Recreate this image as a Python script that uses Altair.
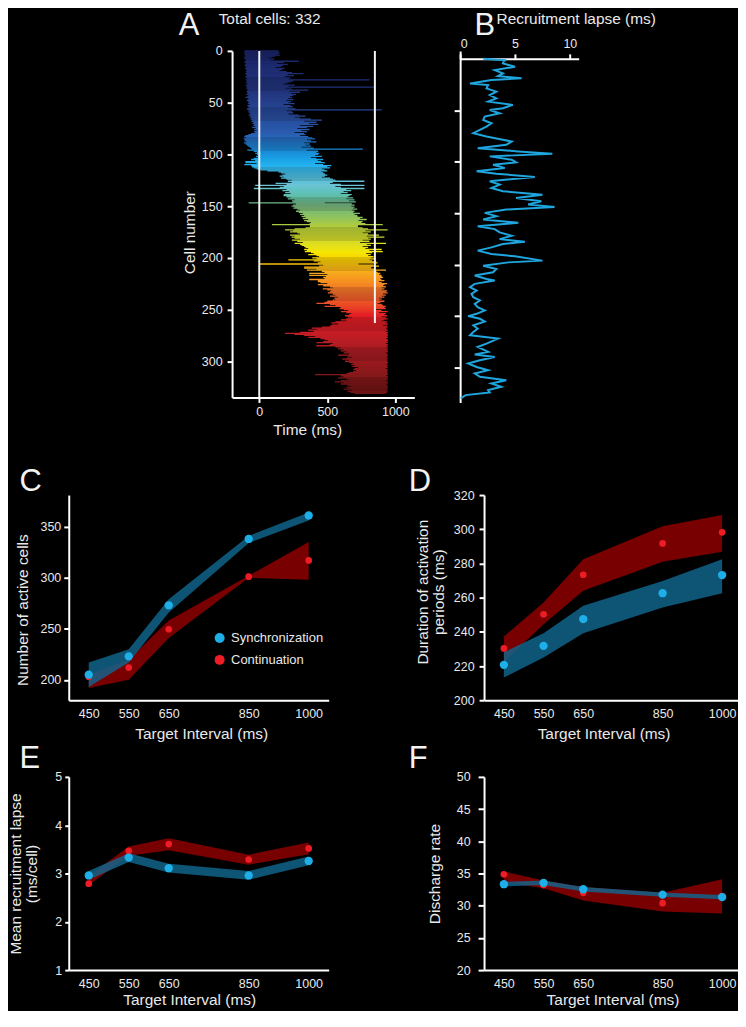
import altair as alt
import pandas as pd

FONT = "Liberation Sans"
TXT = "#e9e9e9"
LET = "#f2f2f2"
BLUE_DOT = "#1eaee8"
RED_DOT = "#ee1c24"
BLUE_BAND = "#10668f"
RED_BAND = "#800000"

# ---------------- Panel A: activation period of each cell ----------------
cell_start = [
 -108,-112,-105,-110,-106,-100,-112,-108,-104,-98,
 -102,-110,-96,-104,-108,-100,-95,-106,-98,-92,
 -100,-94,-104,-98,-90,-102,-96,-88,-100,-94,
 -92,-98,-86,-100,-94,-90,-96,-88,-84,-92,
 -90,-84,-96,-80,-88,-102,-78,-86,-92,-82,
 -76,-84,-70,-88,-80,-74,-92,-86,-68,-80,
 -72,-66,-78,-60,-70,-56,-64,-48,-58,-42,
 -50,-36,-44,-30,-52,-26,-38,-20,-40,-30,
 -60,-80,-102,-110,-96,-115,-104,-108,-92,-112,
 -100,-90,-82,-70,-60,-53,-88,-40,-17,-30,
 -17,-8,-24,-12,-40,-60,-30,-102,-102,-20,
 -110,-60,-53,-40,-20,10,60,141,160,190,
 170,150,180,160,200,238,210,238,120,200,
 -30,180,150,-40,200,170,220,190,230,180,
 178,200,230,210,260,240,250,-78,270,250,
 238,260,250,280,300,270,290,320,300,330,
 311,340,320,360,330,350,380,370,93,372,
 372,340,260,190,250,226,280,300,226,260,
 238,260,300,240,280,320,260,300,311,330,
 340,360,330,350,335,380,400,360,420,440,
 390,420,214,400,450,430,0,470,440,330,
 330,420,350,460,480,367,500,367,490,470,
 480,367,430,431,450,500,431,470,520,540,
 467,500,530,520,504,540,560,520,580,552,
 560,540,500,480,420,520,560,480,600,590,
 620,652,600,640,676,660,630,650,680,640,
 600,640,560,531,580,531,520,460,386,420,
 360,400,300,190,260,330,410,360,450,480,
 504,470,420,540,520,420,560,600,580,620,
 600,640,620,660,580,650,680,640,610,660,
 630,660,690,676,700,680,725,700,690,710,
 690,660,640,410,600,620,580,640,660,600,
 555,620,600,650,676,640,660,620,680,650,670,700]
cell_end = [
 140,145,150,138,152,120,95,70,110,85,
 290,180,130,210,175,160,120,185,170,150,
 200,240,325,210,255,190,230,215,810,250,
 230,205,180,260,215,852,190,240,360,220,
 300,235,270,250,226,240,212,250,200,235,
 215,260,178,230,245,210,265,900,200,240,
 250,215,290,340,260,300,380,460,330,420,
 365,433,300,397,350,280,370,310,350,260,
 330,340,300,360,390,410,350,380,420,330,
 370,340,380,310,400,761,350,433,420,440,
 433,410,460,380,420,470,430,455,482,410,
 470,530,500,520,460,480,500,457,470,482,
 500,482,460,520,540,560,773,540,520,600,
 773,560,600,773,640,676,620,650,600,680,
 664,650,690,640,700,660,710,482,680,700,
 676,700,690,720,680,700,690,740,700,720,
 723,760,740,790,730,760,750,780,908,725,
 725,760,800,944,780,820,760,800,880,790,
 920,800,820,760,810,740,932,790,820,760,
 800,780,900,810,908,830,786,820,800,840,
 820,850,810,830,860,870,730,840,880,823,
 823,850,932,860,870,890,880,898,900,910,
 890,898,920,880,900,940,920,910,930,900,
 920,900,940,930,944,910,930,900,920,880,
 900,880,920,890,870,900,910,930,920,930,
 860,900,944,880,930,920,940,900,930,944,
 920,900,940,930,944,910,940,944,930,940,
 944,930,946,940,944,945,940,946,935,944,
 946,940,944,930,946,940,944,935,946,940,
 944,946,930,940,945,944,935,946,940,944,
 940,946,944,935,946,940,944,930,946,940,
 944,940,946,944,935,946,940,944,946,930,
 944,946,940,935,946,944,940,946,935,944,940,930]
marker_time = [0, 850]
marker_from = [0, 0]
marker_to = [335, 263]
cell_color_stops = [0, 40, 80, 110, 130, 150, 170, 195, 215, 235, 255, 290, 331]
cell_colors = ["#1a2466", "#22357e", "#2a5cb0", "#22b0ee", "#6cc4d4", "#78b47c",
               "#b4cc3c", "#f6e600", "#f6a81e", "#f06a2c", "#e51e25", "#a81c22", "#6e1414"]

# ---------------- Panel B: recruitment lapse ----------------
lapse_cell = [0, 1.3, 2, 4.5, 7.7, 11, 14.2, 16.8, 19, 20.6, 23.9, 25.5, 28.7, 31.9, 35.2,
              38.4, 41.6, 44.8, 48.1, 49.7, 52.9, 56.1, 59.4, 62.6, 65.8, 69, 72.3, 75.5,
              78.7, 80.3, 83.6, 86.8, 90, 92.3, 94.8, 98.1, 100.6, 102.9, 106.1, 109.3,
              111.6, 114.8, 119, 122.2, 125.5, 128.7, 132, 135.2, 138.4, 141.6, 143.9,
              146.5, 149.7, 152.9, 156.1, 159.4, 162.6, 165.5, 168.7, 171.9, 175.2, 177.7,
              180, 183.2, 186.4, 189.7, 191.9, 196.1, 197.8, 201, 204.2, 207.4, 210.6,
              213.9, 215.5, 218.7, 221.9, 225.2, 228.4, 231.6, 234.8, 238.1, 241.3, 244.5,
              247.8, 250, 252.6, 255.2, 259, 262.3, 265.5, 268.7, 271.9, 276.8, 280, 284.8,
              287.4, 289.7, 292.9, 296.1, 299.4, 302.6, 305.8, 309, 312.3, 315.5, 318.7,
              321.9, 324.2, 326.8, 330]
lapse_ms = [2.1, 4.2, 4.0, 3.9, 5.0, 3.15, 3.9, 3.45, 5.6, 2.85, 0.9, 2.55, 2.4, 3.3, 2.7,
            3.3, 2.55, 4.8, 3.9, 2.7, 3.6, 2.24, 2.1, 2.85, 2.4, 1.8, 1.2, 2.4, 3.9, 4.7,
            4.2, 1.6, 5.3, 8.4, 2.7, 4.7, 5.1, 3.0, 4.06, 1.5, 3.3, 6.8, 2.7, 3.6, 2.85,
            3.9, 7.5, 5.1, 7.4, 6.2, 8.6, 4.2, 2.24, 3.3, 2.1, 5.3, 1.6, 3.15, 3.6, 4.7,
            3.6, 5.9, 3.9, 2.85, 1.6, 2.85, 5.0, 7.5, 4.4, 2.1, 3.3, 3.0, 1.33, 2.4, 3.15,
            1.33, 0.9, 1.5, 1.03, 1.2, 1.8, 1.33, 1.6, 2.24, 1.5, 0.73, 1.8, 2.24, 1.2,
            1.6, 1.2, 0.9, 3.45, 2.4, 1.6, 2.55, 1.33, 3.15, 1.8, 0.73, 1.5, 2.55, 1.33,
            1.8, 4.2, 2.85, 3.75, 2.55, 2.7, 0.5, 0.05]

# ---------------- Panels C-F ----------------
intervals = [450, 550, 650, 850, 1000]
c_sync = [205, 223, 273, 338, 361]
c_sync_lo = [193, 217, 266, 334, 356]
c_sync_hi = [217, 230, 279, 341, 364]
c_cont = [203, 212, 249.5, 301, 317]
c_cont_lo = [192, 200, 241, 300, 298]
c_cont_hi = [205, 220, 258, 302, 335]

d_sync = [220.7, 231.8, 247.4, 262.6, 273.2]
d_sync_lo = [213.3, 225, 239.2, 254.3, 262.6]
d_sync_hi = [228, 239.2, 255.2, 269.8, 282.5]
d_cont = [230.3, 250.3, 273.4, 291.7, 298.2]
d_cont_lo = [222.4, 244.5, 264, 281, 286.8]
d_cont_hi = [237.3, 257.2, 282.5, 301.7, 308.3]

e_sync = [2.96, 3.33, 3.11, 2.96, 3.26]
e_sync_lo = [2.87, 3.24, 3.02, 2.87, 3.17]
e_sync_hi = [3.05, 3.42, 3.20, 3.05, 3.35]
e_cont = [2.79, 3.47, 3.61, 3.29, 3.52]
e_cont_lo = [2.76, 3.37, 3.48, 3.18, 3.40]
e_cont_hi = [2.95, 3.56, 3.73, 3.39, 3.64]

f_sync = [33.34, 33.55, 32.56, 31.72, 31.33]
f_sync_lo = [33.0, 33.2, 32.2, 31.4, 31.0]
f_sync_hi = [33.7, 33.9, 32.9, 32.05, 31.65]
f_cont = [34.88, 33.2, 32.0, 30.39, 31.48]
f_cont_lo = [33.7, 32.7, 30.8, 29.1, 28.8]
f_cont_hi = [35.3, 33.9, 32.9, 32.0, 34.1]

LETTER_STYLE = dict(titleFontSize=31, titleColor=LET, titleFont=FONT, titleFontWeight="normal",
                    titleAngle=0, titleAlign="left", titleBaseline="alphabetic")


def letter_axis(txt, orient, tx, ty):
    return alt.Axis(orient=orient, title=txt, labels=False, ticks=False, domain=False,
                    titleX=tx, titleY=ty, **LETTER_STYLE)


def spacer(w, h):
    return alt.Chart(pd.DataFrame({"v": [0]})).mark_point(opacity=0, size=1).encode(
        x=alt.X("v:Q", axis=None), y=alt.Y("v:Q", axis=None)
    ).properties(width=w, height=h)


# ----- A -----
A_W, A_H = 183, 348
dfA = pd.DataFrame({"cell": list(range(len(cell_start))), "start": cell_start, "end": cell_end})
dfM = pd.DataFrame({"t": marker_time, "y0": marker_from, "y1": marker_to})
xA = alt.Scale(domain=[-200, 1140], nice=False, zero=False)
yA = alt.Scale(domain=[0, 335], reverse=True, nice=False, zero=False)
bars = alt.Chart(dfA).mark_rule(strokeWidth=1.3).encode(
    x=alt.X("start:Q", scale=xA, axis=alt.Axis(values=[0, 500, 1000], format="d",
                                               title="Time (ms)", titleX=75.5, titleY=37,
                                               titleBaseline="alphabetic")),
    x2="end:Q",
    y=alt.Y("cell:Q", scale=yA,
            axis=alt.Axis(values=[0, 50, 100, 150, 200, 250, 300], title="Cell number",
                          labelPadding=5, titleX=-38, titleY=182, titleBaseline="alphabetic")),
    color=alt.Color("cell:Q", scale=alt.Scale(domain=cell_color_stops, range=cell_colors),
                    legend=None),
)
markers = alt.Chart(dfM).mark_rule(color="#f4f4f4", strokeWidth=2).encode(
    x=alt.X("t:Q", scale=xA, axis=alt.Axis(orient="top", title=f"Total cells: {len(cell_start)}",
                                           labels=False, ticks=False, domain=False,
                                           titleX=-14, titleY=-27, titleAlign="left",
                                           titleBaseline="alphabetic")),
    y=alt.Y("y0:Q", scale=yA, axis=letter_axis("A", "right", -54 - A_W, -16)),
    y2="y1:Q",
)
A = alt.layer(bars, markers).resolve_axis(x="independent", y="independent").properties(
    width=A_W, height=A_H)

# ----- B -----
dfB = pd.DataFrame({"cell": lapse_cell, "lapse": lapse_ms})
B = alt.Chart(dfB).mark_line(color="#1fa6df", strokeWidth=2).encode(
    x=alt.X("lapse:Q", scale=alt.Scale(domain=[0, 10.8], nice=False, zero=False),
            axis=alt.Axis(orient="top", values=[0, 5, 10], title="Recruitment lapse (ms)",
                          offset=-8, labelPadding=3, titleX=36, titleY=-35, titleAlign="left",
                          titleBaseline="alphabetic")),
    y=alt.Y("cell:Q", scale=alt.Scale(domain=[-7.7, 333.9], reverse=True, nice=False, zero=False),
            axis=alt.Axis(values=[50, 100, 150, 200, 250, 300], labels=False, tickSize=6,
                          title="B", titleX=14, titleY=-16, titleFontSize=31, titleColor=LET,
                          titleAngle=0, titleAlign="left", titleBaseline="alphabetic")),
    order=alt.Order("cell:Q"),
).properties(width=119, height=353)


# ----- C-F -----
def frame(mean, lo, hi, name):
    return pd.DataFrame({"interval": intervals, "mean": mean, "lo": lo, "hi": hi, "series": name})


def panel(sync, slo, shi, cont, clo, chi, ydom, yvals, ytitle, let, let_dx, let_dy,
          ytx, yty, xtx, xty, width, xmax, height, ylabpad, ytick, legend=False):
    ds = frame(sync, slo, shi, "Synchronization")
    dc = frame(cont, clo, chi, "Continuation")
    xs = alt.Scale(domain=[400, xmax], nice=False, zero=False)
    ys = alt.Scale(domain=ydom, nice=False, zero=False)
    xax = alt.Axis(values=intervals, format="d", title="Target Interval (ms)", ticks=False,
                   tickSize=0, labelPadding=7, titleX=xtx, titleY=xty,
                   titleBaseline="alphabetic")
    yax = alt.Axis(values=yvals, title=ytitle, titleX=ytx, titleY=yty, titleBaseline="alphabetic",
                   titleLineHeight=16, labelPadding=ylabpad, tickSize=ytick)
    band_c = alt.Chart(dc).mark_area(color=RED_BAND, opacity=0.95).encode(
        x=alt.X("interval:Q", scale=xs, axis=xax),
        y=alt.Y("lo:Q", scale=ys, axis=yax), y2="hi:Q")
    band_s = alt.Chart(ds).mark_area(color=BLUE_BAND, opacity=0.82).encode(
        x=alt.X("interval:Q", scale=xs, axis=letter_axis(let, "top", let_dx, let_dy)),
        y=alt.Y("lo:Q", scale=ys, axis=yax), y2="hi:Q")
    Xn = alt.X("interval:Q", scale=xs, axis=None)
    if legend:
        col = alt.Color("series:N",
                        scale=alt.Scale(domain=["Synchronization", "Continuation"],
                                        range=[BLUE_DOT, RED_DOT]),
                        legend=alt.Legend(orient="none", legendX=145, legendY=137, title=None,
                                          labelColor=TXT, labelFont=FONT, labelFontSize=13,
                                          symbolType="circle", symbolSize=100,
                                          symbolStrokeWidth=0, rowPadding=8, labelOffset=5,
                                          padding=0))
        pc = alt.Chart(dc).mark_circle(size=45, opacity=1).encode(
            x=Xn, y=alt.Y("mean:Q", scale=ys, axis=yax), color=col)
        ps = alt.Chart(ds).mark_circle(size=70, opacity=1).encode(
            x=Xn, y=alt.Y("mean:Q", scale=ys, axis=yax), color=col)
    else:
        pc = alt.Chart(dc).mark_circle(size=45, opacity=1, color=RED_DOT).encode(
            x=Xn, y=alt.Y("mean:Q", scale=ys, axis=yax))
        ps = alt.Chart(ds).mark_circle(size=70, opacity=1, color=BLUE_DOT).encode(
            x=Xn, y=alt.Y("mean:Q", scale=ys, axis=yax))
    return alt.layer(band_c, band_s, pc, ps).resolve_axis(x="independent").properties(
        width=width, height=height)


C = panel(c_sync, c_sync_lo, c_sync_hi, c_cont, c_cont_lo, c_cont_hi, [180, 381],
          [200, 250, 300, 350], "Number of active cells", "C", -50, -5,
          -41, 115, 133, 38.5, 261, 1050, 206, 3, 5, legend=True)
D = panel(d_sync, d_sync_lo, d_sync_hi, d_cont, d_cont_lo, d_cont_hi, [200, 320],
          [200, 220, 240, 260, 280, 300, 320], ["Duration of activation", "periods (ms)"],
          "D", -76, -5, -57, 97, 120, 38.5, 255, 1040, 206, 5, 5)
E = panel(e_sync, e_sync_lo, e_sync_hi, e_cont, e_cont_lo, e_cont_hi, [1, 5],
          [1, 2, 3, 4, 5], ["Mean recruitment lapse", "(ms/cell)"],
          "E", -50, -9, -48, 97, 121, 35, 261, 1050, 194, 3, 4)
F = panel(f_sync, f_sync_lo, f_sync_hi, f_cont, f_cont_lo, f_cont_hi, [20, 50],
          [20, 25, 30, 35, 40, 45, 50], "Discharge rate",
          "F", -76, -9, -45, 97, 129, 35, 255, 1040, 194, 8, 6)

row1 = alt.hconcat(spacer(71, 415), A, B, spacing=39)
row2 = alt.hconcat(C, D, spacing=80)
row3 = alt.hconcat(E, F, spacing=80)

chart = alt.vconcat(row1, row2, row3, spacing=1, padding=0).resolve_scale(
    color="independent"
).configure(
    background="black", font=FONT
).configure_view(stroke=None).configure_axis(
    domainColor="#ffffff", domainWidth=2, tickColor="#ffffff", tickWidth=2, tickSize=5,
    labelColor=TXT, labelFont=FONT, labelFontSize=12.5, titleColor=TXT, titleFont=FONT,
    titleFontSize=15.5, titleFontWeight="normal", grid=False, labelPadding=3,
)

chart.save("out.html", embed_options={"renderer": "svg", "actions": False})
